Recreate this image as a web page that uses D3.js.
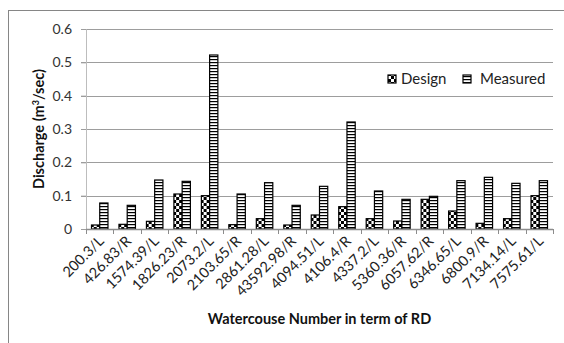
<!DOCTYPE html>
<html>
<head>
<meta charset="utf-8">
<script src="https://cdn.jsdelivr.net/npm/d3@7"></script>
<style>
  html, body { margin: 0; padding: 0; background: #fff; }
  svg { display: block; font-family: Lato, "Open Sans", sans-serif; }
</style>
</head>
<body>
<svg id="chart" width="564" height="343"></svg>
<script>
// Watercourse identifiers (RD / side)
const categories = ["200.3/L", "426.83/R", "1574.39/L", "1826.23/R", "2073.2/L", "2103.65/R",
  "2861.28/L", "43592.98/R", "4094.51/L", "4106.4/R", "4337.2/L", "5360.36/R",
  "6057.62/R", "6346.65/L", "6800.9/R", "7134.14/L", "7575.61/L"];
// Discharge in m³/sec
const designValues = [0.012, 0.014, 0.023, 0.105, 0.100, 0.013, 0.031, 0.012, 0.042, 0.067,
  0.031, 0.024, 0.089, 0.054, 0.017, 0.031, 0.100];
const measuredValues = [0.078, 0.071, 0.147, 0.143, 0.522, 0.105, 0.139, 0.071, 0.128, 0.321,
  0.114, 0.089, 0.098, 0.145, 0.155, 0.137, 0.145];
const yTicks = [0, 0.1, 0.2, 0.3, 0.4, 0.5, 0.6];
const seriesNames = ["Design", "Measured"];

const svg = d3.select("#chart");
const margin = { left: 86, right: 11, top: 29, bottom: 114 };
const W = 564, H = 343;
const plotW = W - margin.left - margin.right;
const plotH = H - margin.top - margin.bottom;

// Fill patterns
const defs = svg.append("defs");
const checker = defs.append("pattern").attr("id", "checker")
  .attr("patternUnits", "userSpaceOnUse").attr("width", 6).attr("height", 6);
checker.append("rect").attr("width", 6).attr("height", 6).attr("fill", "#fff");
checker.append("rect").attr("width", 3).attr("height", 3).attr("fill", "#000");
checker.append("rect").attr("x", 3).attr("y", 3).attr("width", 3).attr("height", 3).attr("fill", "#000");

const stripes = defs.append("pattern").attr("id", "stripes")
  .attr("patternUnits", "userSpaceOnUse").attr("width", 4).attr("height", 3);
stripes.append("rect").attr("width", 4).attr("height", 3).attr("fill", "#fff");
stripes.append("rect").attr("y", 0).attr("width", 4).attr("height", 1.2).attr("fill", "#000");

const fills = { Design: "url(#checker)", Measured: "url(#stripes)" };

// Chart frame
svg.append("rect").attr("x", 8.5).attr("y", 10.5).attr("width", 570).attr("height", 350)
  .attr("fill", "none").attr("stroke", "#868686").attr("stroke-width", 1);

const g = svg.append("g").attr("transform", `translate(${margin.left},${margin.top})`);

const x = d3.scaleBand().domain(categories).range([0, plotW]).padding(0);
const y = d3.scaleLinear().domain([0, 0.6]).range([plotH, 0]);
const barW = x.bandwidth() * 0.3;

// Gridlines with tick stubs on the left
g.append("g").selectAll("line").data(yTicks.slice(1)).join("line")
  .attr("x1", -5).attr("x2", plotW)
  .attr("y1", d => Math.round(y(d)) + 0.5).attr("y2", d => Math.round(y(d)) + 0.5)
  .attr("stroke", "#9d9d9d").attr("stroke-width", 1);

// Y axis
const yAxis = g.append("g").call(d3.axisLeft(y).tickValues(yTicks).tickSize(5).tickPadding(9)
  .tickFormat(d => d === 0 ? "0" : d3.format(".1f")(d)));
yAxis.select(".domain").attr("stroke", "#bdbdbd");
yAxis.selectAll(".tick line").attr("stroke", "#9d9d9d");
yAxis.selectAll(".tick text").attr("font-size", 14).attr("fill", "#333")
  .attr("font-family", "Lato, sans-serif");

// Bars
const groups = g.append("g").selectAll("g").data(categories).join("g")
  .attr("transform", d => `translate(${x(d) + x.bandwidth() / 2},0)`);
groups.append("rect")
  .attr("x", -barW).attr("width", barW)
  .attr("y", (d, i) => y(designValues[i])).attr("height", (d, i) => y(0) - y(designValues[i]))
  .attr("fill", fills.Design).attr("stroke", "#000").attr("stroke-width", 1.2);
groups.append("rect")
  .attr("x", 0).attr("width", barW)
  .attr("y", (d, i) => y(measuredValues[i])).attr("height", (d, i) => y(0) - y(measuredValues[i]))
  .attr("fill", fills.Measured).attr("stroke", "#000").attr("stroke-width", 1.2);

// X axis with ticks between categories
const xAxisG = g.append("g").attr("transform", `translate(0,${plotH})`);
xAxisG.append("line").attr("x1", 0).attr("x2", plotW).attr("y1", 0.5).attr("y2", 0.5)
  .attr("stroke", "#8c8c8c").attr("stroke-width", 1.5);
xAxisG.selectAll(".tk").data(d3.range(categories.length + 1)).join("line").attr("class", "tk")
  .attr("x1", i => Math.round(i * x.step()) + 0.5).attr("x2", i => Math.round(i * x.step()) + 0.5)
  .attr("y1", 0).attr("y2", 5).attr("stroke", "#8c8c8c");
xAxisG.selectAll(".lbl").data(categories).join("text").attr("class", "lbl")
  .attr("transform", d => `translate(${x(d) + x.bandwidth() / 2 + 5},${13}) rotate(-45)`)
  .attr("text-anchor", "end").attr("font-size", 14.5).attr("fill", "#222")
  .text(d => d);

// Axis titles
svg.append("text")
  .attr("transform", `translate(44,${margin.top + plotH / 2}) rotate(-90)`)
  .attr("text-anchor", "middle").attr("font-size", 14.5).attr("font-weight", "bold").attr("fill", "#111")
  .text("Discharge (m")
  .append("tspan").attr("baseline-shift", "super").attr("font-size", 9).text("3")
  .select(function () { return this.parentNode; })
  .append("tspan").text("/sec)");

svg.append("text").attr("x", margin.left + plotW / 2).attr("y", 324)
  .attr("text-anchor", "middle").attr("font-size", 14.5).attr("font-weight", "bold").attr("fill", "#111")
  .text("Watercouse Number in term of RD");

// Legend
const legend = svg.append("g").attr("transform", "translate(388,79)");
const legItems = legend.selectAll("g").data(seriesNames).join("g")
  .attr("transform", (d, i) => `translate(${i * 75},0)`);
legItems.append("rect").attr("x", 0).attr("y", -4).attr("width", 8).attr("height", 8)
  .attr("fill", d => fills[d]).attr("stroke", "#000").attr("stroke-width", 1.2);
legItems.append("text").attr("x", (d, i) => i === 0 ? 13 : 17).attr("y", 5)
  .attr("font-size", 15).attr("fill", "#222").text(d => d);
</script>
</body>
</html>
